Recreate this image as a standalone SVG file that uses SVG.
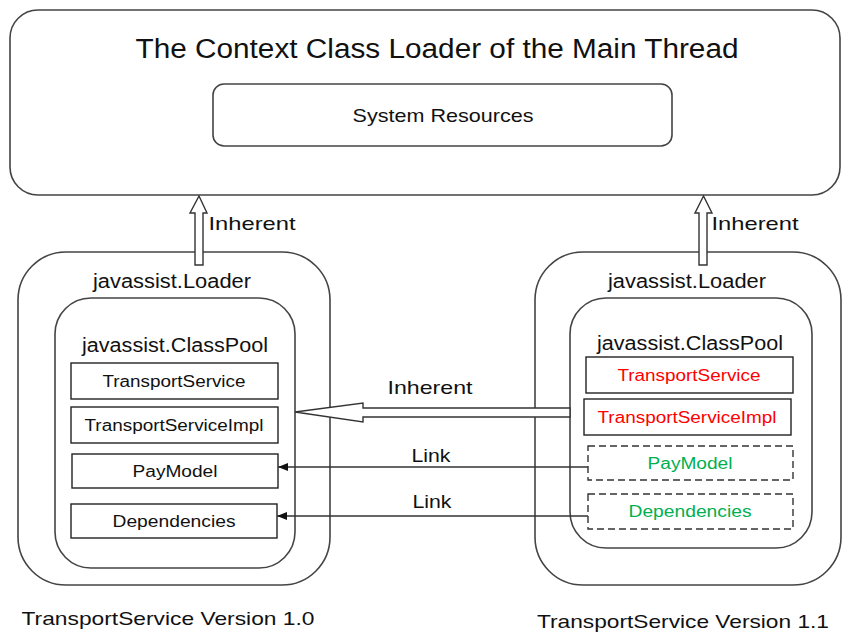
<svg xmlns="http://www.w3.org/2000/svg" width="845" height="633" viewBox="0 0 845 633">
<style>
text{font-family:"Liberation Sans",Arial,sans-serif;fill:#111;text-anchor:middle}
.box{fill:#fff;stroke:#444;stroke-width:1.6}
.item{fill:#fff;stroke:#222;stroke-width:1.4}
.dash{fill:#fff;stroke:#333;stroke-width:1.4;stroke-dasharray:7 4}
.blk{fill:#fff;stroke:#333;stroke-width:1.4;stroke-linejoin:miter}
.lnk{stroke:#333;stroke-width:1.6;fill:none}
.red{fill:#ff0000}
.grn{fill:#00b050}
</style>
<defs>
<marker id="ah" markerWidth="10" markerHeight="10" refX="10" refY="5" orient="auto" markerUnits="userSpaceOnUse">
<path d="M0,1 L10,5 L0,9 Z" fill="#111"/>
</marker>
</defs>
<rect width="845" height="633" fill="#fff"/>
<g id="main-thread">
<rect class="box" x="10" y="10" width="830" height="185" rx="28"/>
<text x="437" y="58" font-size="27" textLength="603" lengthAdjust="spacingAndGlyphs">The Context Class Loader of the Main Thread</text>
</g>
<g id="system-resources">
<rect class="box" x="213" y="84" width="459" height="62" rx="11"/>
<text x="443" y="122" font-size="19" textLength="181" lengthAdjust="spacingAndGlyphs">System Resources</text>
</g>
<g id="loader-left">
<rect class="box" x="18" y="252" width="312" height="333" rx="48"/>
<text x="172" y="288" font-size="20" textLength="158" lengthAdjust="spacingAndGlyphs">javassist.Loader</text>
</g>
<g id="classpool-left">
<rect class="box" x="55" y="298" width="240" height="270" rx="36"/>
<text x="175" y="352" font-size="20" textLength="186" lengthAdjust="spacingAndGlyphs">javassist.ClassPool</text>
</g>
<g id="left-transportservice">
<rect class="item" x="71" y="363" width="207" height="36"/>
<text x="174" y="387" font-size="16" textLength="143" lengthAdjust="spacingAndGlyphs">TransportService</text>
</g>
<g id="left-transportserviceimpl">
<rect class="item" x="71" y="407" width="207" height="36"/>
<text x="174" y="431" font-size="16" textLength="179" lengthAdjust="spacingAndGlyphs">TransportServiceImpl</text>
</g>
<g id="left-paymodel">
<rect class="item" x="72" y="454" width="206" height="34"/>
<text x="175" y="477" font-size="16" textLength="85" lengthAdjust="spacingAndGlyphs">PayModel</text>
</g>
<g id="left-dependencies">
<rect class="item" x="71" y="504" width="206" height="34"/>
<text x="174" y="527" font-size="16" textLength="123" lengthAdjust="spacingAndGlyphs">Dependencies</text>
</g>
<g id="loader-right">
<rect class="box" x="535" y="252" width="306" height="333" rx="48"/>
<text x="687" y="288" font-size="20" textLength="158" lengthAdjust="spacingAndGlyphs">javassist.Loader</text>
</g>
<g id="classpool-right">
<rect class="box" x="570" y="298" width="242" height="250" rx="36"/>
<text x="690" y="350" font-size="20" textLength="186" lengthAdjust="spacingAndGlyphs">javassist.ClassPool</text>
</g>
<g id="right-transportservice">
<rect class="item" x="586" y="357" width="207" height="36"/>
<text class="red" x="689" y="381" font-size="16" textLength="143" lengthAdjust="spacingAndGlyphs">TransportService</text>
</g>
<g id="right-transportserviceimpl">
<rect class="item" x="584" y="399" width="207" height="36"/>
<text class="red" x="687" y="423" font-size="16" textLength="179" lengthAdjust="spacingAndGlyphs">TransportServiceImpl</text>
</g>
<g id="right-paymodel">
<rect class="dash" x="588" y="446" width="205" height="34"/>
<text class="grn" x="690" y="469" font-size="16" textLength="85" lengthAdjust="spacingAndGlyphs">PayModel</text>
</g>
<g id="right-dependencies">
<rect class="dash" x="588" y="494" width="205" height="35"/>
<text class="grn" x="690" y="517" font-size="16" textLength="123" lengthAdjust="spacingAndGlyphs">Dependencies</text>
</g>
<g id="connectors">
<polygon class="blk" points="199,196 207,213 203,213 203,265 195,265 195,213 190,213"/>
<polygon class="blk" points="703.5,196 712,213 707,213 707,265 699,265 699,213 695,213"/>
<polygon class="blk" points="295,412 363,403 363,408 570,408 570,417 363,417 363,422"/>
<line class="lnk" x1="588" y1="467" x2="278" y2="467" marker-end="url(#ah)"/>
<line class="lnk" x1="588" y1="516" x2="277" y2="516" marker-end="url(#ah)"/>
<text x="252" y="230" font-size="19" textLength="87" lengthAdjust="spacingAndGlyphs">Inherent</text>
<text x="755" y="230" font-size="19" textLength="87" lengthAdjust="spacingAndGlyphs">Inherent</text>
<text x="430" y="394" font-size="19" textLength="85" lengthAdjust="spacingAndGlyphs">Inherent</text>
<text x="431" y="462" font-size="19" textLength="39" lengthAdjust="spacingAndGlyphs">Link</text>
<text x="432" y="508" font-size="19" textLength="39" lengthAdjust="spacingAndGlyphs">Link</text>
</g>
<text x="168" y="625" font-size="19" textLength="293" lengthAdjust="spacingAndGlyphs">TransportService Version 1.0</text>
<text x="683" y="628" font-size="19" textLength="292" lengthAdjust="spacingAndGlyphs">TransportService Version 1.1</text>
</svg>
